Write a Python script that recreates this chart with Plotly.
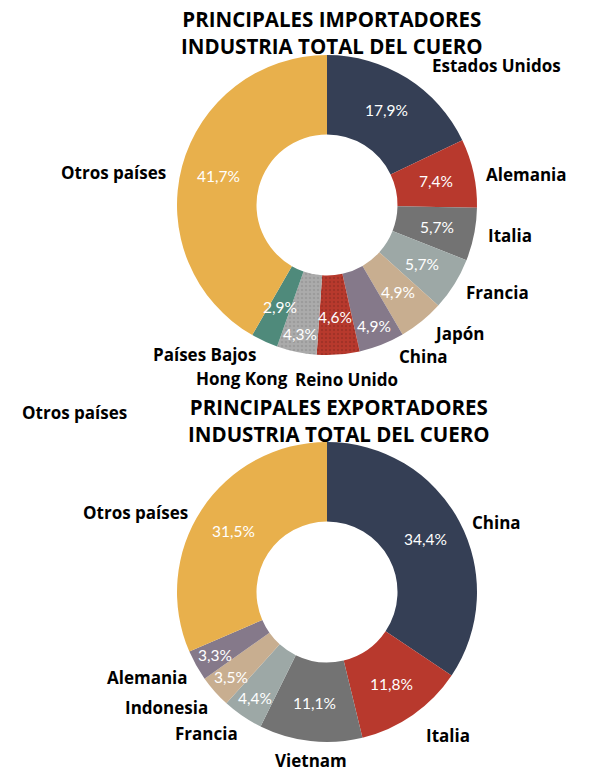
import math
import plotly.graph_objects as go

# ---------------- data ----------------
imp_countries = ["Estados Unidos", "Alemania", "Italia", "Francia", "Japón", "China",
                 "Reino Unido", "Hong Kong", "Países Bajos", "Otros países"]
imp_values = [17.9, 7.4, 5.7, 5.7, 4.9, 4.9, 4.6, 4.3, 2.9, 41.7]

exp_countries = ["China", "Italia", "Vietnam", "Francia", "Indonesia", "Alemania", "Otros países"]
exp_values = [34.4, 11.8, 11.1, 4.4, 3.5, 3.3, 31.5]

imp_title = "PRINCIPALES IMPORTADORES<br>INDUSTRIA TOTAL DEL CUERO"
exp_title = "PRINCIPALES EXPORTADORES<br>INDUSTRIA TOTAL DEL CUERO"

# ---------------- styles ----------------
W, H = 615, 772
YELLOW = "#E8B04C"
NAVY = "#353F55"
RED = "#B8392D"
GRAY = "#737373"
LGRAY = "#9DA8A6"
TAN = "#C8AE90"
MAUVE = "#85798A"
SILVER = "#ABABAB"
TEAL = "#4F8A7B"

imp_colors = [NAVY, RED, GRAY, LGRAY, TAN, MAUVE, RED, SILVER, TEAL, YELLOW]
exp_colors = [NAVY, RED, GRAY, LGRAY, TAN, MAUVE, YELLOW]
imp_pattern = ["", "", "", "", "", "", ".", ".", "", ""]
imp_pat_fg = ["#000", "#000", "#000", "#000", "#000", "#000", "#8a2a20", "#8c8c8c", "#000", "#000"]

# pie geometry (pixels)
D = 300
HOLE = 0.47
IMP_C = (327, 205)
EXP_C = (327, 592)
# radial position of the percentage text in each slice (pixels from centre)
imp_pct_r = [112, 112, 112, 112, 112, 130, 112, 132, 112, 112]
exp_pct_r = [112, 112, 112, 128, 128, 128, 112]


def fmt(v):
    return f"{v:.1f}".replace(".", ",") + "%"


def px(x, y):
    return x / W, 1 - y / H


def dom(cx, cy, d):
    x0, y1 = px(cx - d / 2, cy - d / 2)
    x1, y0 = px(cx + d / 2, cy + d / 2)
    return dict(x=[x0, x1], y=[y0, y1])


PCT_FONT = dict(family="Lato, 'Open Sans', sans-serif", size=15.5, color="white")
LBL_FONT = dict(family="'Open Sans', sans-serif", size=17, color="black", weight="bold")
TTL_FONT = dict(family="'Open Sans', sans-serif", size=20.5, color="black", weight="bold")

fig = go.Figure()

fig.add_trace(go.Pie(
    labels=imp_countries, values=imp_values, text=[fmt(v) for v in imp_values],
    textinfo="none", sort=False, direction="clockwise", rotation=0, hole=HOLE,
    marker=dict(colors=imp_colors, line=dict(width=0),
                pattern=dict(shape=imp_pattern, fgcolor=imp_pat_fg, fillmode="overlay",
                             size=4, solidity=0.3)),
    domain=dom(*IMP_C, D), showlegend=False,
    hoverinfo="label+text", name="Importadores"))

fig.add_trace(go.Pie(
    labels=exp_countries, values=exp_values, text=[fmt(v) for v in exp_values],
    textinfo="none", sort=False, direction="clockwise", rotation=0, hole=HOLE,
    marker=dict(colors=exp_colors, line=dict(width=0)),
    domain=dom(*EXP_C, D), showlegend=False,
    hoverinfo="label+text", name="Exportadores"))

ann = []


def pct_annotations(values, centre, radii):
    total = sum(values)
    cum = 0.0
    for v, r in zip(values, radii):
        mid = (cum + v / 2) / total * 2 * math.pi
        cum += v
        x = centre[0] + r * math.sin(mid)
        y = centre[1] - r * math.cos(mid)
        X, Y = px(x, y)
        ann.append(dict(x=X, y=Y, text=fmt(v), xanchor="center", yanchor="middle", font=PCT_FONT))


pct_annotations(imp_values, IMP_C, imp_pct_r)
pct_annotations(exp_values, EXP_C, exp_pct_r)

# label positions (pixel coords, anchor)
imp_label_pos = [(430, 66, "left"), (484, 174, "left"), (486, 236, "left"), (464, 292, "left"),
                 (432, 333, "left"), (397, 356, "left"), (293, 379, "left"),
                 (290, 378, "right"), (258, 354, "right"), (168, 172, "right")]
exp_label_pos = [(470, 522, "left"), (424, 735, "left"), (311, 760, "center"), (240, 733, "right"),
                 (210, 707, "right"), (190, 677, "right"), (190, 512, "right")]

for name, (x, y, a) in zip(imp_countries, imp_label_pos):
    X, Y = px(x, y)
    ann.append(dict(x=X, y=Y, text=name, xanchor=a, yanchor="middle", font=LBL_FONT))
for name, (x, y, a) in zip(exp_countries, exp_label_pos):
    X, Y = px(x, y)
    ann.append(dict(x=X, y=Y, text=name, xanchor=a, yanchor="middle", font=LBL_FONT))

X, Y = px(332, 32)
ann.append(dict(x=X, y=Y, text=imp_title, xanchor="center", yanchor="middle", font=TTL_FONT))
X, Y = px(339, 420)
ann.append(dict(x=X, y=Y, text=exp_title, xanchor="center", yanchor="middle", font=TTL_FONT))
X, Y = px(20, 412)
ann.append(dict(x=X, y=Y, text="Otros países", xanchor="left", yanchor="middle", font=LBL_FONT))

for a in ann:
    a.update(xref="paper", yref="paper", showarrow=False)

fig.update_layout(
    width=W, height=H, margin=dict(l=0, r=0, t=0, b=0),
    paper_bgcolor="white", plot_bgcolor="white",
    annotations=ann,
)

fig.write_html("out.html")
